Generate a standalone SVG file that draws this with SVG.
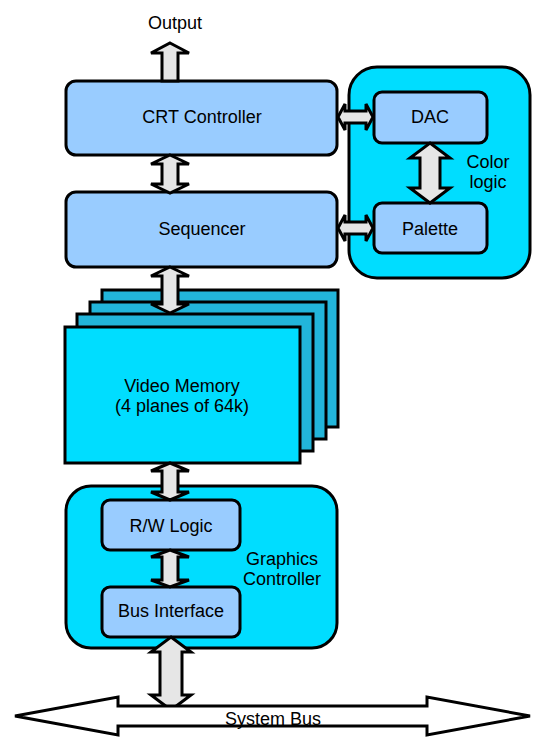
<svg xmlns="http://www.w3.org/2000/svg" width="545" height="752" viewBox="0 0 545 752">
<style>
text{font-family:"Liberation Sans",Arial,sans-serif;font-size:18px;fill:#000;text-anchor:middle}
.blk{fill:#99CCFF;stroke:#000;stroke-width:3}
.grp{fill:#00DDFF;stroke:#000;stroke-width:3}
.pl{fill:#22B5DA;stroke:#000;stroke-width:3}
.ar{fill:#E6E6E6;stroke:#000;stroke-width:3;stroke-linejoin:miter}
.bus{fill:#fff;stroke:#000;stroke-width:3}
</style>
<rect width="545" height="752" fill="#fff"/>
<g id="color-logic">
<rect class="grp" x="349" y="67" width="181" height="211" rx="28"/>
<text x="488" y="168">Color</text>
<text x="488" y="188">logic</text>
</g>
<g id="graphics-controller">
<rect class="grp" x="66" y="486" width="271" height="162" rx="25"/>
<text x="282" y="565">Graphics</text>
<text x="282" y="585">Controller</text>
</g>
<g id="video-memory">
<rect class="pl" x="102" y="290" width="236" height="137"/>
<rect class="pl" x="90" y="302" width="236" height="137"/>
<rect class="pl" x="77" y="314" width="236" height="137"/>
<rect class="grp" x="65" y="327" width="235" height="136"/>
<text x="182" y="392">Video Memory</text>
<text x="182" y="412">(4 planes of 64k)</text>
</g>
<g id="crt-controller">
<rect class="blk" x="66" y="81" width="271" height="74" rx="10"/>
<text x="202" y="123">CRT Controller</text>
</g>
<g id="sequencer">
<rect class="blk" x="66" y="192" width="271" height="75" rx="10"/>
<text x="202" y="235">Sequencer</text>
</g>
<g id="dac">
<rect class="blk" x="374" y="92" width="113" height="51" rx="8"/>
<text x="430" y="123">DAC</text>
</g>
<g id="palette">
<rect class="blk" x="374" y="203" width="113" height="50" rx="8"/>
<text x="430" y="235">Palette</text>
</g>
<g id="rw-logic">
<rect class="blk" x="102" y="500" width="138" height="50" rx="8"/>
<text x="171" y="532">R/W Logic</text>
</g>
<g id="bus-interface">
<rect class="blk" x="102" y="587" width="138" height="50" rx="8"/>
<text x="171" y="617">Bus Interface</text>
</g>
<g id="connectors">
<path class="ar" d="M170,43 L189,53 L178,53 L178,81 L162,81 L162,53 L151,53 Z"/>
<path class="ar" d="M170,155 L189,164 L178,164 L178,184 L189,184 L170,193 L151,184 L162,184 L162,164 L151,164 Z"/>
<path class="ar" d="M170,267 L189,276 L178,276 L178,304 L189,304 L170,313 L151,304 L162,304 L162,276 L151,276 Z"/>
<path class="ar" d="M170,463 L189,471 L178,471 L178,492 L189,492 L170,500 L151,492 L162,492 L162,471 L151,471 Z"/>
<path class="ar" d="M170,550 L189,557 L178,557 L178,580 L189,580 L170,587 L151,580 L162,580 L162,557 L151,557 Z"/>
<path class="ar" d="M171,637 L191,652 L182,652 L182,695 L191,695 L171,710 L151,695 L160,695 L160,652 L151,652 Z"/>
<path class="ar" d="M338,117 L345,104 L345,111 L366,111 L366,104 L373,117 L366,130 L366,123 L345,123 L345,130 Z"/>
<path class="ar" d="M338,228 L345,215 L345,222 L366,222 L366,215 L373,228 L366,241 L366,234 L345,234 L345,241 Z"/>
<path class="ar" d="M430,143 L450,158 L440,158 L440,188 L450,188 L430,203 L410,188 L420,188 L420,158 L410,158 Z"/>
<path class="bus" d="M15,716 L118,697 L118,706 L427,706 L427,697 L530,716 L427,735 L427,726 L118,726 L118,735 Z"/>
</g>
<text x="175" y="29">Output</text>
<text x="273" y="725">System Bus</text>
</svg>
